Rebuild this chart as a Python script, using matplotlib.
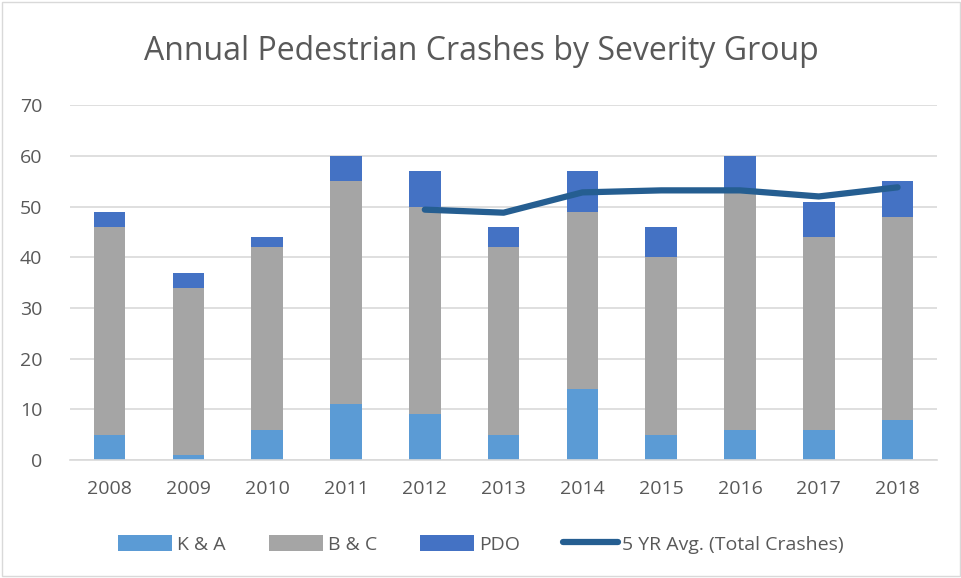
import matplotlib.pyplot as plt
import numpy as np

years = ['2008', '2009', '2010', '2011', '2012', '2013', '2014', '2015', '2016', '2017', '2018']
k_a = [5, 1, 6, 11, 9, 5, 14, 5, 6, 6, 8]
b_c = [41, 33, 36, 44, 41, 37, 35, 35, 47, 38, 40]
pdo = [3, 3, 2, 5, 7, 4, 8, 6, 7, 7, 7]
avg_years = ['2012', '2013', '2014', '2015', '2016', '2017', '2018']
avg_5yr = [49.4, 48.8, 52.8, 53.2, 53.2, 52.0, 53.8]

plt.rcParams['font.family'] = ['Open Sans', 'DejaVu Sans']

fig = plt.figure(figsize=(9.62, 5.78), dpi=100)
ax = fig.add_axes([0.073, 0.204, 0.901, 0.614])

x = np.arange(len(years))
k_a = np.array(k_a)
b_c = np.array(b_c)
pdo = np.array(pdo)
w = 0.4
h1 = ax.bar(x, k_a, w, color='#5b9bd5', label='K & A', zorder=2)
h2 = ax.bar(x, b_c, w, bottom=k_a, color='#a5a5a5', label='B & C', zorder=2)
h3 = ax.bar(x, pdo, w, bottom=k_a + b_c, color='#4472c4', label='PDO', zorder=2)

ax_x = [years.index(y) for y in avg_years]
h4, = ax.plot(ax_x, avg_5yr, color='#255e91', lw=4.5, solid_capstyle='round',
              label='5 YR Avg. (Total Crashes)', zorder=3)

ax.set_xlim(-0.5, len(years) - 0.5)
ax.set_ylim(0, 70)
ax.set_yticks(range(0, 71, 10))
ax.set_xticks(x)
ax.set_xticklabels(years)
ax.yaxis.grid(True, color='#d9d9d9', lw=1.2, zorder=0)
ax.set_axisbelow(True)
for s in ['top', 'right', 'left']:
    ax.spines[s].set_visible(False)
ax.spines['bottom'].set_color('#d9d9d9')
ax.spines['bottom'].set_linewidth(1.2)
ax.tick_params(length=0, labelsize=14, colors='#595959')
ax.tick_params(axis='x', pad=14)
ax.tick_params(axis='y', pad=20)

fig.suptitle('Annual Pedestrian Crashes by Severity Group', y=0.94,
             fontsize=23, color='#595959')

fig.legend([h1, h2, h3, h4], ['K & A', 'B & C', 'PDO', '5 YR Avg. (Total Crashes)'],
           loc='center', bbox_to_anchor=(0.5, 0.058), ncol=4, frameon=False,
           fontsize=14, labelcolor='#595959', handlelength=2.8, handleheight=0.9,
           columnspacing=2.2, handletextpad=0.25)

fig.patches.append(plt.Rectangle((0.002, 0.003), 0.996, 0.994, transform=fig.transFigure,
                                 fill=False, edgecolor='#d9d9d9', lw=1))

plt.savefig('out.png', dpi=100)
